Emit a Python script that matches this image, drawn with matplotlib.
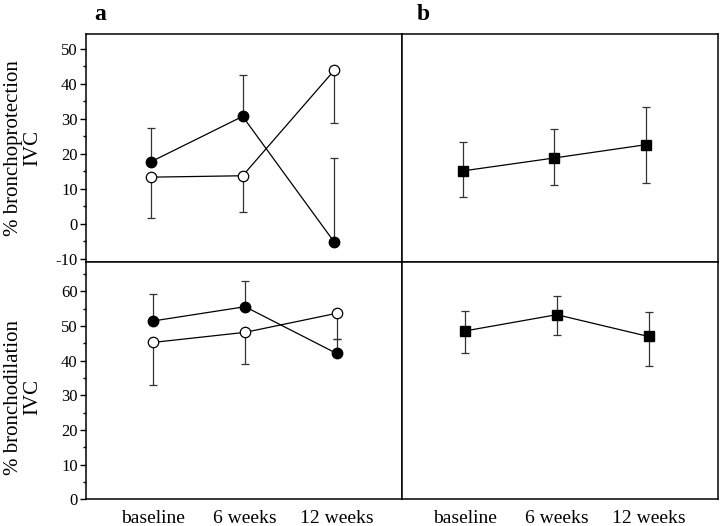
import matplotlib
matplotlib.use('Agg')
import matplotlib.pyplot as plt
from matplotlib.ticker import MultipleLocator

plt.rcParams['font.family'] = ['Liberation Serif', 'DejaVu Serif']
plt.rcParams['axes.unicode_minus'] = False

weeks = ['baseline', '6 weeks', '12 weeks']

# panel a, bronchoprotection
prot_filled = [17.7, 30.7, -5.3]
prot_filled_hi = [27.5, 42.5, 18.7]
prot_open = [13.3, 13.7, 43.9]
prot_open_lo = [1.7, 3.4, 28.8]
# panel b, bronchoprotection
prot_all = [15.1, 18.8, 22.6]
prot_all_hi = [23.4, 27.2, 33.4]
prot_all_lo = [7.6, 11.0, 11.7]

# panel a, bronchodilation
dil_filled = [51.5, 55.6, 42.1]
dil_filled_hi = [59.2, 63.0, 46.2]
dil_open = [45.3, 48.2, 53.7]
dil_open_lo = [32.9, 39.0, 46.2]
# panel b, bronchodilation
dil_all = [48.6, 53.3, 47.0]
dil_all_hi = [54.5, 58.6, 54.2]
dil_all_lo = [42.2, 47.4, 38.6]

x = list(range(len(weeks)))

fig = plt.figure(figsize=(7.2, 5.26), dpi=100)
ax_tl = fig.add_axes([0.1194, 0.5025, 0.4385, 0.4323])
ax_tr = fig.add_axes([0.5579, 0.5025, 0.4397, 0.4323])
ax_bl = fig.add_axes([0.1194, 0.0508, 0.4385, 0.4517])
ax_br = fig.add_axes([0.5579, 0.0508, 0.4397, 0.4517])

line_kw = dict(color='black', lw=0.9, zorder=2)
err_kw = dict(fmt='none', ecolor='#333333', elinewidth=0.9, capsize=3, capthick=0.9, zorder=1)


def err(vals, lo=None, hi=None):
    low = [v - l for v, l in zip(vals, lo)] if lo else [0] * len(vals)
    high = [h - v for v, h in zip(vals, hi)] if hi else [0] * len(vals)
    return [low, high]


def groups(ax, filled, filled_hi, opened, opened_lo):
    ax.errorbar(x, filled, yerr=err(filled, hi=filled_hi), **err_kw)
    ax.errorbar(x, opened, yerr=err(opened, lo=opened_lo), **err_kw)
    ax.plot(x, filled, marker='o', ms=7.5, mfc='black', mec='black', **line_kw)
    ax.plot(x, opened, marker='o', ms=7.5, mfc='white', mec='black', mew=0.9, **line_kw)


def single(ax, vals, lo, hi):
    ax.errorbar(x, vals, yerr=err(vals, lo=lo, hi=hi), **err_kw)
    ax.plot(x, vals, marker='s', ms=7, mfc='black', mec='black', **line_kw)


groups(ax_tl, prot_filled, prot_filled_hi, prot_open, prot_open_lo)
groups(ax_bl, dil_filled, dil_filled_hi, dil_open, dil_open_lo)
single(ax_tr, prot_all, prot_all_lo, prot_all_hi)
single(ax_br, dil_all, dil_all_lo, dil_all_hi)

ax_tl.set_xlim(-0.709, 2.735)
ax_tr.set_xlim(-0.67, 2.79)
ax_bl.set_xlim(-0.737, 2.71)
ax_br.set_xlim(-0.69, 2.76)

for ax in (ax_tl, ax_tr):
    ax.set_ylim(-10.9, 54.2)
for ax in (ax_bl, ax_br):
    ax.set_ylim(0, 68.6)

for ax in (ax_tl, ax_tr, ax_bl, ax_br):
    for s in ax.spines.values():
        s.set_linewidth(1.1)
    ax.set_xticks(x)
    ax.tick_params(axis='x', length=0, labelsize=14, pad=8)

for ax in (ax_tl, ax_bl):
    ax.yaxis.set_major_locator(MultipleLocator(10))
    ax.yaxis.set_minor_locator(MultipleLocator(5))
    ax.tick_params(axis='y', which='major', direction='out', length=4, width=1, labelsize=12, pad=2)
    ax.tick_params(axis='y', which='minor', direction='out', length=2.5, width=1)

for ax in (ax_tr, ax_br):
    ax.set_yticks([])

for ax in (ax_tl, ax_tr):
    ax.set_xticklabels([])
ax_bl.set_xticklabels(weeks)
ax_br.set_xticklabels(weeks)

ax_tl.set_ylabel('% bronchoprotection\nIVC', fontsize=15, linespacing=1.0)
ax_bl.set_ylabel('% bronchodilation\nIVC', fontsize=15, linespacing=1.0)
ax_tl.yaxis.set_label_coords(-0.14, 0.5)
ax_bl.yaxis.set_label_coords(-0.14, 0.43)

fig.text(100 / 720, 1 - 14 / 526, 'a', fontsize=17, fontweight='bold', ha='center', va='center')
fig.text(423 / 720, 1 - 14 / 526, 'b', fontsize=17, fontweight='bold', ha='center', va='center')

fig.savefig('out.png', dpi=100)
